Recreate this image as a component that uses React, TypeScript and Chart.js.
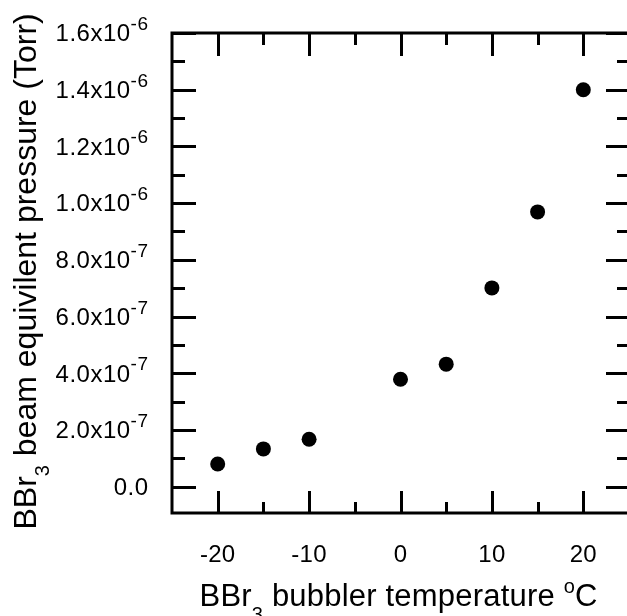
import React, { useEffect, useRef } from "react";
import { Chart, registerables } from "chart.js";

Chart.register(...registerables);

// ---- data ----
const temperatures = [-20, -15, -10, 0, 5, 10, 15, 20];
const pressures = [0.8e-7, 1.33e-7, 1.67e-7, 3.79e-7, 4.32e-7, 7.01e-7, 9.69e-7, 1.4e-6];

const xMin = -25;
const xMax = 25;
const yMin = -0.93e-7;
const yMax = 1.6e-6;

const xMajorTicks = [-20, -10, 0, 10, 20];
const xMinorTicks = [-15, -5, 5, 15];
const xTickLabels = ["-20", "-10", "0", "10", "20"];

const yMajorTicks = [0, 2e-7, 4e-7, 6e-7, 8e-7, 1.0e-6, 1.2e-6, 1.4e-6, 1.6e-6];
const yMinorTicks = [1e-7, 3e-7, 5e-7, 7e-7, 9e-7, 1.1e-6, 1.3e-6, 1.5e-6];
const yTickMantissas = ["0.0", "2.0x10", "4.0x10", "6.0x10", "8.0x10", "1.0x10", "1.2x10", "1.4x10", "1.6x10"];
const yTickExponents = ["", "-7", "-7", "-7", "-7", "-6", "-6", "-6", "-6"];

const xTitleParts = ["BBr", "3", " bubbler temperature ", "o", "C"];
const yTitleParts = ["BBr", "3", " beam equivilent pressure (Torr)"];

const FONT = "'Liberation Sans', Arial, Helvetica, sans-serif";

type Part = { t: string; size: number; dy: number };

function drawRich(
  ctx: CanvasRenderingContext2D,
  parts: Part[],
  x: number,
  y: number,
  align: "left" | "right" | "center",
  spacing = 0
) {
  const c: any = ctx;
  c.letterSpacing = `${spacing}px`;
  let total = 0;
  const widths = parts.map((p) => {
    ctx.font = `${p.size}px ${FONT}`;
    const w = ctx.measureText(p.t).width;
    total += w;
    return w;
  });
  let cx = align === "left" ? x : align === "right" ? x - total + spacing : x - total / 2;
  ctx.textAlign = "left";
  ctx.textBaseline = "alphabetic";
  parts.forEach((p, i) => {
    ctx.font = `${p.size}px ${FONT}`;
    ctx.fillText(p.t, cx, y + p.dy);
    cx += widths[i];
  });
  c.letterSpacing = "0px";
}

const framePlugin = {
  id: "originFrame",
  afterDraw(chart: any) {
    const { ctx, chartArea, scales } = chart;
    const xs = scales.x;
    const ys = scales.y;
    const { left, right, top, bottom } = chartArea;
    ctx.save();
    ctx.strokeStyle = "#000";
    ctx.fillStyle = "#000";
    ctx.lineWidth = 3;
    ctx.lineCap = "butt";
    ctx.strokeRect(left, top, right - left, bottom - top);

    ctx.beginPath();
    const xTick = (v: number, major: boolean) => {
      const px = Math.round(xs.getPixelForValue(v)) + 0.5;
      const lb = major ? 22 : 11;
      const lt = major ? 23 : 12;
      ctx.moveTo(px, bottom);
      ctx.lineTo(px, bottom - lb);
      ctx.moveTo(px, top);
      ctx.lineTo(px, top + lt);
    };
    const yTick = (v: number, major: boolean) => {
      const py = Math.round(ys.getPixelForValue(v)) + 0.5;
      const ll = major ? 24 : 13;
      const lr = major ? 23 : 12;
      ctx.moveTo(left, py);
      ctx.lineTo(left + ll, py);
      ctx.moveTo(right, py);
      ctx.lineTo(right - lr, py);
    };
    xMajorTicks.forEach((v) => xTick(v, true));
    xMinorTicks.forEach((v) => xTick(v, false));
    yMajorTicks.forEach((v) => yTick(v, true));
    yMinorTicks.forEach((v) => yTick(v, false));
    ctx.stroke();

    // tick labels
    xMajorTicks.forEach((v, i) => {
      const px = xs.getPixelForValue(v);
      drawRich(ctx, [{ t: xTickLabels[i], size: 24, dy: 0 }], px, 561.5, "center", 0.3);
    });
    yMajorTicks.forEach((v, i) => {
      const py = ys.getPixelForValue(v);
      const parts: Part[] = [{ t: yTickMantissas[i], size: 24, dy: 0 }];
      if (yTickExponents[i]) parts.push({ t: yTickExponents[i], size: 19, dy: -11.3 });
      drawRich(ctx, parts, 148, py + 8.3, "right", 0.5);
    });

    // x title
    drawRich(
      ctx,
      [
        { t: xTitleParts[0], size: 31, dy: 0 },
        { t: xTitleParts[1], size: 20, dy: 15 },
        { t: xTitleParts[2], size: 31, dy: 0 },
        { t: xTitleParts[3], size: 20, dy: -13 },
        { t: xTitleParts[4], size: 31, dy: 0 },
      ],
      199.5,
      605.5,
      "left",
      0.2
    );

    // y title
    ctx.save();
    ctx.translate(36, 529.5);
    ctx.rotate(-Math.PI / 2);
    drawRich(
      ctx,
      [
        { t: yTitleParts[0], size: 32, dy: 0 },
        { t: yTitleParts[1], size: 20, dy: 13 },
        { t: yTitleParts[2], size: 32, dy: 0 },
      ],
      0,
      0,
      "left"
    );
    ctx.restore();
    ctx.restore();
  },
};

export default function App() {
  const ref = useRef<HTMLCanvasElement | null>(null);
  useEffect(() => {
    if (!ref.current) return;
    const chart = new Chart(ref.current, {
      type: "scatter",
      data: {
        datasets: [
          {
            data: temperatures.map((t, i) => ({ x: t, y: pressures[i] })),
            backgroundColor: "#000",
            borderColor: "#000",
            borderWidth: 0,
            pointRadius: 7.5,
            pointHoverRadius: 7.5,
            showLine: false,
          },
        ],
      },
      options: {
        responsive: false,
        maintainAspectRatio: false,
        animation: false,
        devicePixelRatio: 1,
        layout: { padding: { left: 172, top: 33, right: 11, bottom: 103 } },
        plugins: { legend: { display: false }, tooltip: { enabled: false } },
        scales: {
          x: { type: "linear", min: xMin, max: xMax, display: false },
          y: { type: "linear", min: yMin, max: yMax, display: false },
        },
      },
      plugins: [framePlugin],
    });
    return () => chart.destroy();
  }, []);
  return (
    <div
      style={{
        position: "absolute",
        left: 0,
        top: 0,
        width: 627,
        height: 616,
        overflow: "hidden",
        background: "#fff",
      }}
    >
      <canvas ref={ref} width={640} height={616} style={{ display: "block" }} />
    </div>
  );
}
